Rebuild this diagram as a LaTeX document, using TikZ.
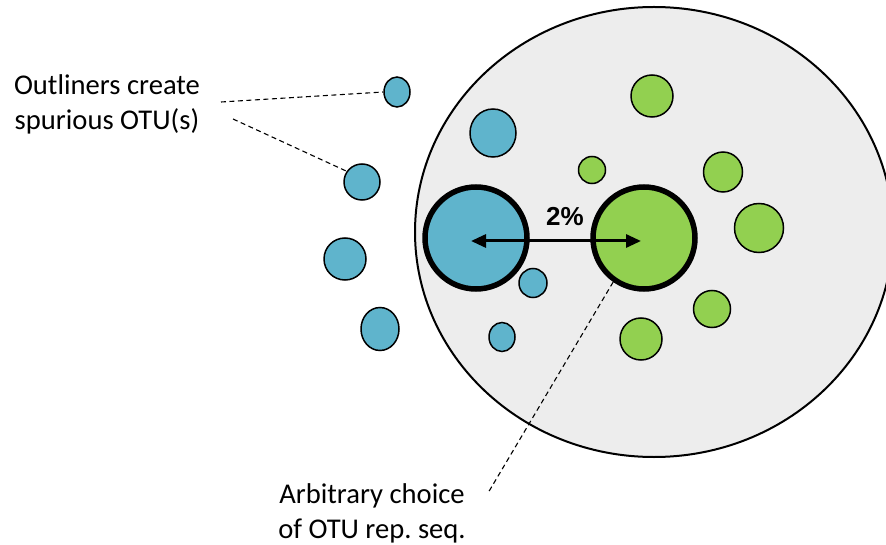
\documentclass[tikz,border=0pt]{standalone}
\usepackage{fontspec}
\setmainfont{Carlito}
\newfontfamily\labelsans{Liberation Sans}
\usetikzlibrary{shapes.geometric,arrows.meta}
\frenchspacing

\definecolor{otublue}{HTML}{5FB4CC}
\definecolor{otugreen}{HTML}{92D050}
\definecolor{clustergray}{HTML}{EDEDED}

\tikzset{
  seqdot/.style={ellipse, draw=black, line width=1.5pt, inner sep=0pt,
                 minimum width=#1, minimum height=#1},
  bluedot/.style={seqdot=#1, fill=otublue},
  greendot/.style={seqdot=#1, fill=otugreen},
  repseq/.style={circle, draw=black, line width=5.5pt, inner sep=0pt,
                 minimum size=102pt},
  leader/.style={draw=black, line width=1.1pt, dash pattern=on 5pt off 3.5pt},
  caption/.style={font=\fontsize{28.6}{35}\selectfont, align=center, inner sep=0pt},
}

\begin{document}
\begin{tikzpicture}[x=1pt, y=-1pt]
  \useasboundingbox (0,0) rectangle (886,545);
  \clip (0,0) rectangle (886,545);

  % the cluster at the 2% threshold
  \node[ellipse, draw=black, line width=2pt, fill=clustergray, inner sep=0pt,
        minimum width=478pt, minimum height=450pt] (cluster) at (654,232) {};

  % blue sequences
  \node[bluedot=26pt, minimum height=30pt] (b1) at (397,92) {};
  \node[bluedot=36pt] (b2) at (362,182) {};
  \node[bluedot=42pt] (b3) at (345,259) {};
  \node[bluedot=38pt, minimum height=43pt] (b4) at (380,329) {};
  \node[bluedot=46pt, minimum height=48pt] (b5) at (493,133) {};
  \node[bluedot=28pt, minimum height=29pt] (b6) at (533,283) {};
  \node[bluedot=26pt, minimum height=29pt] (b7) at (502,337) {};

  % green sequences
  \node[greendot=42pt] (g1) at (652,96) {};
  \node[greendot=27pt] (g2) at (592,170) {};
  \node[greendot=39pt, minimum height=40pt] (g3) at (723,172) {};
  \node[greendot=49pt] (g4) at (759,228) {};
  \node[greendot=37pt] (g5) at (712,309) {};
  \node[greendot=42pt] (g6) at (641,339) {};

  % representative sequences
  \node[repseq, fill=otublue] (repB) at (476,238) {};
  \node[repseq, fill=otugreen] (repG) at (644,238) {};

  % distance between the representatives
  \draw[line width=3pt, shorten <=-5pt, shorten >=3pt,
        {Triangle[length=15pt,width=13pt]}-{Triangle[length=15pt,width=13pt]}]
    ([yshift=-3pt]repB.center) -- ([yshift=-3pt]repG.center);
  \node[font=\labelsans\bfseries\fontsize{26}{30}\selectfont, inner sep=0pt] (pct) at (565,217) {2\%};

  % captions and leader lines
  \node[caption, anchor=base] (outl) at (107,130) {Outliners create\\spurious OTU(s)};
  \coordinate (outlA) at (221,102);
  \coordinate (outlB) at (233,119);
  \draw[leader] (outlA) -- (b1.west);
  \draw[leader] (outlB) -- (b2.145);

  \node[caption, anchor=base] (arb) at (372,538) {Arbitrary choice\\of OTU rep. seq.};
  \coordinate (arbA) at (488,493);
  \draw[leader] (repG.235) -- (arbA);
\end{tikzpicture}
\end{document}
